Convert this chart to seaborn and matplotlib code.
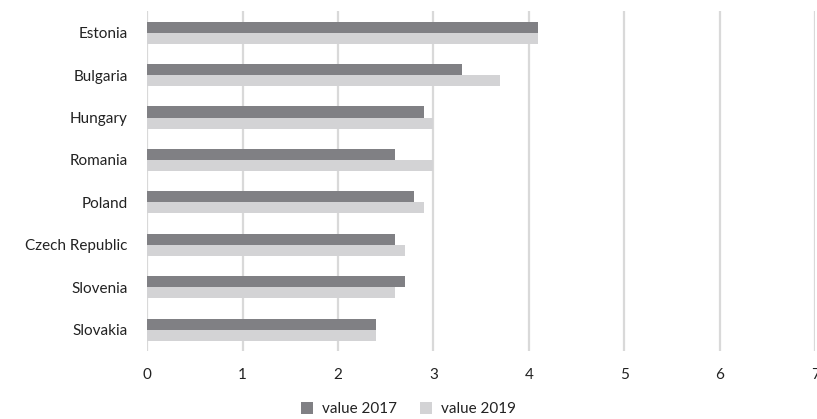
import matplotlib
matplotlib.use("Agg")
import matplotlib.pyplot as plt
import seaborn as sns
import pandas as pd
from matplotlib.patches import Patch

countries = ["Estonia", "Bulgaria", "Hungary", "Romania", "Poland",
             "Czech Republic", "Slovenia", "Slovakia"]
value_2017 = [4.1, 3.3, 2.9, 2.6, 2.8, 2.6, 2.7, 2.4]
value_2019 = [4.1, 3.7, 3.0, 3.0, 2.9, 2.7, 2.6, 2.4]
series_names = ["value 2017", "value 2019"]
x_ticks = [0, 1, 2, 3, 4, 5, 6, 7]

df = pd.DataFrame({
    "country": countries * 2,
    "value": value_2017 + value_2019,
    "series": [series_names[0]] * len(countries) + [series_names[1]] * len(countries),
})

sns.set_style("white")
plt.rcParams["font.family"] = ["Lato", "DejaVu Sans"]

colors = ["#808084", "#d3d3d5"]
fig = plt.figure(figsize=(8.17, 4.19), dpi=100)
ax = fig.add_axes([0.18, 0.162, 0.818, 0.811])

sns.barplot(data=df, y="country", x="value", hue="series", order=countries,
            hue_order=series_names, palette=colors, width=0.52, orient="h",
            ax=ax, legend=False, saturation=1, linewidth=0)

ax.set_xlim(0, 7)
ax.set_xticks(x_ticks)
ax.set_xticklabels([str(t) for t in x_ticks])
ax.grid(axis="x", color="#d9d9d9", linewidth=1.6)
ax.set_axisbelow(True)
for s in ax.spines.values():
    s.set_visible(False)
ax.set_xlabel("")
ax.set_ylabel("")
ax.tick_params(axis="x", length=0, labelsize=11, labelcolor="#222222", pad=12,
               bottom=True)
ax.tick_params(axis="y", length=0, labelsize=11, labelcolor="#222222", pad=14)

handles = [Patch(facecolor=c, edgecolor="none") for c in colors]
fig.legend(handles, series_names, loc="center", bbox_to_anchor=(0.5, 0.024),
           ncol=2, frameon=False, fontsize=11, handlelength=0.8, handleheight=0.8,
           columnspacing=1.5, handletextpad=0.6, labelcolor="#222222")

fig.savefig("out.png", dpi=100)
